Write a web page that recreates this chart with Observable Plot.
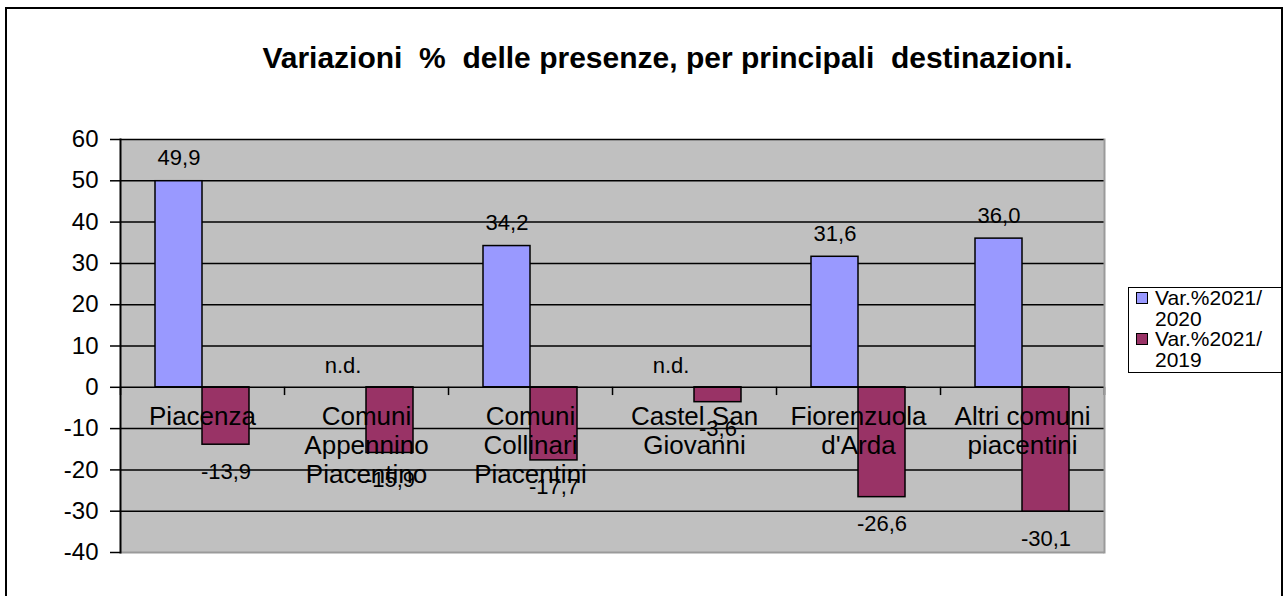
<!DOCTYPE html>
<html>
<head>
<meta charset="utf-8">
<script src="https://cdn.jsdelivr.net/npm/d3@7"></script>
<script src="https://cdn.jsdelivr.net/npm/@observablehq/plot@0.6"></script>
<style>
  body { margin: 0; background: #fff; font-family: "Liberation Sans", Arial, sans-serif; }
  #wrap { position: relative; width: 1287px; height: 596px; overflow: hidden; background: #fff; }
  #chart { position: absolute; left: 0; top: 0; }
  #chart svg { background: transparent !important; }
  #border { position: absolute; left: 5px; top: 7px; width: 1278px; height: 700px; border: 2px solid #000; box-sizing: border-box; pointer-events: none; }
  #title { position: absolute; left: 24px; top: 43px; width: 1287px; text-align: center; font-weight: bold; font-size: 30px; line-height: 30px; white-space: pre; color: #000; }
  #legend { position: absolute; left: 1128px; top: 287px; width: 154px; height: 86px; border: 1.5px solid #000; box-sizing: border-box; background: #fff; font-size: 21px; line-height: 20.5px; color: #000; }
  .item { position: relative; padding-left: 26px; white-space: pre-line; }
  .sw { position: absolute; left: 7px; top: 4px; width: 12px; height: 12px; border: 1px solid #000; box-sizing: border-box; }
</style>
</head>
<body>
<div id="wrap">
  <div id="chart"></div>
  <div id="border"></div>
  <div id="title"></div>
  <div id="legend"></div>
</div>
<script>
// ---- data ----
const titleText = "Variazioni  %  delle presenze, per principali  destinazioni.";
const catNames = ["Piacenza", "Comuni Appennino Piacentino", "Comuni Collinari Piacentini", "Castel San Giovanni", "Fiorenzuola d'Arda", "Altri comuni piacentini"];
const catLabels = ["Piacenza", "Comuni\nAppennino\nPiacentino", "Comuni\nCollinari\nPiacentini", "Castel San\nGiovanni", "Fiorenzuola\nd'Arda", "Altri comuni\npiacentini"];
const seriesNames = ["Var.%2021/2020", "Var.%2021/2019"];
const var2021_2020 = [49.9, null, 34.2, null, 31.6, 36.0];
const var2021_2019 = [-13.9, -15.9, -17.7, -3.6, -26.6, -30.1];
const yTicks = [-40, -30, -20, -10, 0, 10, 20, 30, 40, 50, 60];
const seriesColors = ["#9999ff", "#993366"];
const naLabel = "n.d.";

// ---- table ----
const rows = catNames.flatMap((c, i) => [
  {cat: c, series: seriesNames[0], value: var2021_2020[i]},
  {cat: c, series: seriesNames[1], value: var2021_2019[i]}
]);
const fmt = v => v.toFixed(1).replace(".", ",");

// ---- layout ----
const W = 1287, H = 596, mL = 118, mR = 182, mT = 139, mB = 44;
const padOuter = 0.73;
const facetW = (W - mL - mR) / catNames.length;
const step = facetW / (2 + 2 * padOuter);
const edgeShift = (padOuter + 0.5) * step;

const chart = Plot.plot({
  width: W, height: H,
  marginLeft: mL, marginRight: mR, marginTop: mT, marginBottom: mB,
  style: {fontFamily: "'Liberation Sans', Arial, sans-serif", background: "transparent", color: "#000"},
  fx: {domain: catNames, padding: 0, axis: null, label: null},
  x: {domain: seriesNames, paddingInner: 0, paddingOuter: padOuter, axis: null, label: null},
  y: {domain: [yTicks[0], yTicks[yTicks.length - 1]], axis: null, label: null},
  color: {domain: seriesNames, range: seriesColors},
  marks: [
    Plot.frame({facet: "super", fill: "#c0c0c0"}),
    Plot.ruleY(yTicks.filter(v => v !== 0 && v !== yTicks[0]), {stroke: "#000", strokeWidth: 1.5}),
    Plot.barY(rows.filter(d => d.value != null), {fx: "cat", x: "series", y: "value", fill: "series", stroke: "#000", strokeWidth: 1.5}),
    Plot.ruleY([0], {stroke: "#000", strokeWidth: 1.5}),
    Plot.ruleX(catNames, {fx: d => d, x: () => seriesNames[0], y1: 0, y2: -2, dx: -edgeShift, stroke: "#000", strokeWidth: 1.5}),
    Plot.ruleX([catNames[catNames.length - 1]], {fx: d => d, x: () => seriesNames[1], y1: 0, y2: -2, dx: edgeShift, stroke: "#000", strokeWidth: 1.5}),
    Plot.ruleY([yTicks[0]], {stroke: "#9a9a9a", strokeWidth: 2}),
    Plot.frame({facet: "super", anchor: "right", stroke: "#9a9a9a", strokeWidth: 2}),
    Plot.frame({facet: "super", anchor: "left", stroke: "#000", strokeWidth: 2}),
    Plot.axisY({ticks: yTicks, tickSize: 10, tickPadding: 12, tickFormat: d => String(d), fontSize: 24, label: null, stroke: "#000", strokeWidth: 1.5}),
    Plot.text(catNames, {fx: d => d, y: 0, text: (d, i) => catLabels[i], lineAnchor: "top", dy: 17, fontSize: 26, lineHeight: 1.12, fill: "#000"}),
    Plot.text(rows.filter(d => d.value != null && d.value >= 0), {fx: "cat", x: "series", y: "value", text: d => fmt(d.value), dy: -23, fontSize: 22, fill: "#000"}),
    Plot.text(rows.filter(d => d.value != null && d.value < 0), {fx: "cat", x: "series", y: "value", text: d => fmt(d.value), dy: 27, fontSize: 22, fill: "#000"}),
    Plot.text(rows.filter(d => d.value == null), {fx: "cat", x: "series", y: 0, text: () => naLabel, dy: -21, fontSize: 22, fill: "#000"})
  ]
});
document.getElementById("chart").appendChild(chart);

document.getElementById("title").textContent = titleText;

const legend = document.getElementById("legend");
seriesNames.forEach((name, i) => {
  const item = document.createElement("div");
  item.className = "item";
  const sw = document.createElement("span");
  sw.className = "sw";
  sw.style.background = seriesColors[i];
  item.appendChild(sw);
  item.appendChild(document.createTextNode(name.replace("/", "/\n")));
  legend.appendChild(item);
});
</script>
</body>
</html>
